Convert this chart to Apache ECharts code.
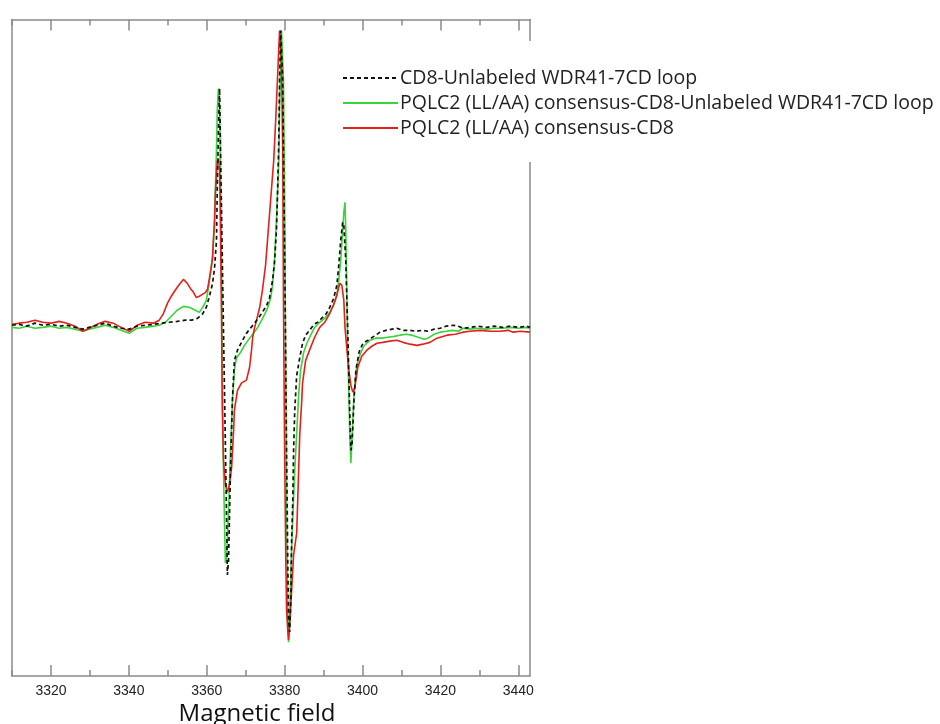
<!DOCTYPE html>
<html>
<head>
<meta charset="utf-8">
<title>EPR spectra</title>
<script src="https://cdn.jsdelivr.net/npm/echarts@6/dist/echarts.min.js"></script>
<style>
  html, body { margin: 0; padding: 0; background: #fff; }
  #chart { width: 940px; height: 724px; }
</style>
</head>
<body>
<div id="chart"></div>
<script>
// Field positions (G) and signal (a.u.) for each sample
const fieldBlack = [3310.0,3311.8,3313.8,3315.9,3317.9,3320.0,3322.1,3324.1,3326.2,3328.2,3329.8,3331.8,3333.9,3336.0,3338.0,3340.1,3342.1,3344.2,3346.3,3348.3,3350.4,3352.4,3354.5,3356.1,3357.6,3358.9,3359.9,3360.7,3361.5,3362.0,3362.5,3362.7,3363.0,3363.3,3363.5,3364.0,3364.6,3365.1,3365.3,3365.6,3366.1,3366.6,3367.1,3367.9,3368.9,3370.2,3371.2,3372.3,3373.6,3374.6,3375.4,3376.1,3376.9,3377.4,3377.9,3378.2,3378.5,3378.7,3379.0,3379.2,3379.5,3380.0,3380.5,3380.8,3381.0,3381.3,3381.6,3381.8,3382.1,3382.3,3382.6,3383.1,3383.9,3384.6,3385.4,3386.4,3387.5,3388.5,3389.5,3390.6,3391.6,3392.6,3393.4,3393.9,3394.4,3394.9,3395.2,3395.7,3396.2,3396.7,3397.0,3397.3,3397.8,3398.3,3399.1,3400.1,3401.4,3402.9,3404.5,3406.0,3407.6,3408.8,3410.4,3412.2,3413.7,3415.3,3416.8,3418.4,3419.9,3421.5,3423.3,3424.6,3425.8,3427.6,3429.7,3431.8,3433.8,3435.9,3438.0,3440.0,3442.1,3443.0];
const signalBlack = [0,0.3,-0.3,0.7,0,0.3,-0.3,0,-0.7,-1.3,-0.7,0,0.7,-0.3,-1.0,-1.3,-0.3,0,0.3,0.7,1.0,1.3,1.7,1.7,2.3,3.7,6.0,9.7,14.0,19.0,28.3,45.0,65.0,79.0,61.7,21.7,-25.0,-65.0,-83.3,-78.3,-48.3,-25.0,-11.7,-8.3,-5.7,-2.7,-1.0,0.7,3.0,5.0,6.7,9.0,15.0,21.0,31.7,45.0,61.7,81.7,98.3,98.3,81.7,25.0,-41.7,-78.3,-98.3,-102.3,-91.7,-71.7,-58.3,-41.7,-28.3,-16.7,-10.7,-6.0,-3.3,-1.7,0.3,1.0,2.3,3.7,6.0,9.0,13.3,20.0,28.3,34.3,33.3,21.7,-1.7,-28.3,-41.7,-40.0,-25.0,-15.0,-9.0,-6.0,-5.0,-3.7,-2.3,-1.7,-1.3,-1.0,-1.7,-1.7,-2.0,-1.7,-2.0,-1.3,-1.0,-0.3,0,-0.3,-1.0,-0.7,-0.3,-0.7,-0.3,-0.7,-0.3,-0.7,-0.3,-0.7];

const fieldGreen = [3310.0,3311.8,3313.8,3315.9,3317.9,3320.0,3322.1,3324.1,3326.2,3328.2,3329.8,3331.8,3333.9,3336.0,3338.0,3340.1,3342.1,3344.2,3346.3,3347.8,3349.4,3350.9,3352.4,3354.0,3355.5,3357.1,3358.1,3359.1,3359.9,3360.4,3360.9,3361.5,3362.0,3362.2,3362.5,3362.7,3363.0,3363.3,3363.5,3363.8,3364.0,3364.3,3364.6,3364.8,3365.1,3365.6,3366.1,3366.6,3367.1,3367.6,3368.7,3369.7,3371.0,3372.0,3373.1,3374.1,3374.9,3375.6,3376.4,3376.9,3377.4,3377.9,3378.5,3378.7,3379.0,3379.2,3379.5,3379.7,3380.0,3380.3,3380.5,3380.8,3381.0,3381.3,3381.6,3382.1,3382.6,3383.1,3383.6,3384.1,3384.9,3385.7,3386.7,3387.7,3389.0,3390.3,3391.6,3392.6,3393.4,3393.9,3394.4,3394.9,3395.2,3395.5,3395.7,3396.0,3396.2,3396.5,3396.7,3397.0,3397.3,3397.8,3398.5,3399.3,3400.3,3401.9,3403.4,3405.0,3406.5,3408.1,3409.6,3411.2,3412.7,3414.3,3415.8,3416.8,3418.4,3419.9,3421.5,3423.0,3424.6,3425.8,3427.6,3429.7,3431.8,3433.8,3435.9,3438.0,3440.0,3442.1,3443.0];
const signalGreen = [-0.7,-1.0,-0.3,-1.0,-0.7,-0.3,-1.0,-0.7,-1.3,-2.0,-1.3,-0.7,0,-0.7,-1.7,-2.7,-1.0,-0.7,-0.3,0,1.0,3.0,5.0,6.3,6.0,5.0,4.3,6.3,8.3,12.3,16.7,23.3,33.3,45.0,58.3,71.7,79.0,73.3,55.0,21.7,-18.3,-48.3,-68.3,-79.3,-78.3,-61.7,-41.7,-25.0,-15.0,-11.0,-9.0,-6.7,-4.3,-2.7,-0.7,1.7,3.7,5.7,9.0,13.3,21.7,35.0,55.0,71.7,88.3,98.3,98.3,81.7,41.7,-18.3,-65.0,-95.0,-105.7,-98.3,-81.7,-64.0,-48.3,-36.0,-23.3,-15.0,-9.0,-6.0,-3.3,-0.7,1.0,2.3,4.3,6.7,10.0,15.0,21.7,31.7,37.7,41.0,31.7,8.3,-8.3,-23.3,-35.0,-46.0,-38.3,-23.3,-13.3,-10.0,-7.0,-5.0,-4.3,-4.3,-4.0,-3.7,-3.3,-3.0,-3.3,-4.0,-4.7,-4.3,-3.0,-2.3,-2.0,-1.7,-2.0,-1.0,-1.3,-1.0,-1.3,-1.0,-1.0,-0.7,-1.0,-0.7,-1.0];

const fieldRed = [3310.0,3311.8,3313.8,3315.9,3317.9,3320.0,3322.1,3324.1,3326.2,3328.2,3329.8,3331.8,3333.9,3336.0,3338.0,3340.1,3342.1,3344.2,3346.3,3347.8,3348.8,3349.9,3350.9,3351.9,3353.0,3354.0,3354.5,3355.0,3355.8,3356.6,3357.3,3358.1,3358.9,3359.7,3360.2,3360.7,3361.2,3361.5,3361.7,3362.0,3362.2,3362.5,3362.7,3363.0,3363.3,3363.5,3363.8,3364.0,3364.3,3364.8,3365.3,3365.6,3365.8,3366.4,3366.9,3367.1,3367.9,3368.9,3370.2,3371.0,3371.5,3371.8,3372.3,3372.8,3373.6,3374.3,3375.1,3375.6,3376.4,3377.2,3377.7,3378.2,3378.7,3379.0,3379.2,3379.5,3379.7,3380.0,3380.3,3380.5,3380.8,3381.0,3381.3,3381.8,3382.3,3383.1,3383.6,3383.9,3384.4,3384.6,3385.4,3386.4,3387.7,3389.0,3390.3,3391.6,3392.6,3393.4,3393.9,3394.2,3394.7,3395.2,3395.5,3396.0,3396.5,3397.0,3397.5,3398.0,3398.8,3399.8,3401.1,3402.4,3403.7,3405.2,3407.0,3408.8,3410.4,3412.2,3414.0,3415.5,3417.3,3419.1,3421.7,3423.8,3425.8,3427.6,3430.2,3432.8,3435.4,3437.4,3438.7,3440.5,3443.0];
const signalRed = [0.3,0.7,1.0,1.7,1.0,0.7,1.3,0.7,-0.3,-2.0,-1.0,0.3,1.3,0.7,-0.7,-2.0,0,1.0,0.7,1.7,3.7,7.3,9.7,11.7,13.7,15.3,15.7,14.0,12.3,11.0,9.3,9.7,10.3,11.0,12.0,15.7,19.7,22.3,28.3,35.0,43.3,50.0,54.3,55.7,51.7,35.0,1.7,-28.3,-45.0,-53.3,-55.7,-56.0,-53.3,-47.3,-35.0,-28.3,-21.7,-19.3,-18.3,-14.0,-8.3,-4.0,-0.7,1.7,6.0,11.7,20.0,28.3,41.7,55.0,68.3,83.3,98.3,98.3,88.3,58.3,8.3,-41.7,-78.3,-95.0,-101.7,-105.0,-100.0,-88.3,-76.7,-69.3,-48.3,-36.0,-25.0,-19.3,-11.7,-8.3,-4.0,-0.7,1.0,4.0,7.0,10.0,12.7,14.0,13.3,8.3,-0.7,-8.3,-15.0,-20.0,-22.3,-21.0,-14.0,-10.3,-8.3,-7.0,-6.0,-5.7,-5.3,-5.0,-5.7,-6.3,-6.7,-6.3,-5.7,-4.3,-3.3,-3.0,-2.3,-2.0,-1.7,-2.0,-2.0,-1.7,-2.3,-2.0,-2.3];

const seriesNames = [
  'CD8-Unlabeled WDR41-7CD loop',
  'PQLC2 (LL/AA) consensus-CD8-Unlabeled WDR41-7CD loop',
  'PQLC2 (LL/AA) consensus-CD8'
];
const majorTicks = [3320, 3340, 3360, 3380, 3400, 3420, 3440];
const minorTicks = [3310, 3330, 3350, 3370, 3390, 3410, 3430];

const fieldMin = 3310, fieldMax = 3443;
const signalMin = -117, signalMax = 102;

function pairs(xs, ys) {
  return xs.map((x, i) => [x, ys[i]]);
}

const frameColor = '#8a8a8a';

function tickAxis(position, values, length, withLine, withLabels) {
  return {
    type: 'value', position: position, min: fieldMin, max: fieldMax,
    axisLine: { show: withLine, onZero: false, lineStyle: { color: frameColor, width: 1.5 } },
    axisTick: { show: true, inside: true, length: length, customValues: values,
                lineStyle: { color: frameColor, width: 1.5 } },
    axisLabel: withLabels
      ? { show: true, customValues: values, margin: 8, fontFamily: 'Liberation Sans',
          fontSize: 14, color: '#222', formatter: v => String(v) }
      : { show: false },
    splitLine: { show: false }
  };
}

const bottomMinor = tickAxis('bottom', minorTicks, 6, true, false);
bottomMinor.name = 'Magnetic field';
bottomMinor.nameLocation = 'middle';
bottomMinor.nameGap = 26;
bottomMinor.nameTextStyle = { fontFamily: 'Open Sans', fontSize: 24, color: '#111', padding: [0, 28, 0, 0] };

const chart = echarts.init(document.getElementById('chart'));
chart.setOption({
  backgroundColor: '#fff',
  animation: false,
  grid: { left: 12, right: 410, top: 19.5, bottom: 48, outerBoundsMode: 'none', containLabel: false },
  xAxis: [
    bottomMinor,
    tickAxis('bottom', majorTicks, 11, false, true),
    tickAxis('top', minorTicks, 6, true, false),
    tickAxis('top', majorTicks, 11, false, false)
  ],
  yAxis: [
    { type: 'value', position: 'left', min: signalMin, max: signalMax,
      axisLine: { show: true, onZero: false, lineStyle: { color: frameColor, width: 1.5 } },
      axisTick: { show: false }, axisLabel: { show: false }, splitLine: { show: false } },
    { type: 'value', position: 'right', min: signalMin, max: signalMax,
      axisLine: { show: true, onZero: false, lineStyle: { color: frameColor, width: 1.5 } },
      axisTick: { show: false }, axisLabel: { show: false }, splitLine: { show: false } }
  ],
  legend: {
    orient: 'vertical', left: 337, top: 41,
    padding: [25, 6, 22, 5],
    backgroundColor: '#fff',
    itemGap: 1, itemWidth: 55, itemHeight: 14,
    itemStyle: { opacity: 0 },
    data: seriesNames,
    textStyle: { fontFamily: 'Open Sans', fontSize: 19.5, color: '#222', lineHeight: 24, padding: [0, 0, 0, -3] }
  },
  series: [
    { name: seriesNames[1], type: 'line', symbol: 'none', z: 2,
      data: pairs(fieldGreen, signalGreen),
      lineStyle: { color: '#3ad43a', width: 1.6 }, itemStyle: { color: '#3ad43a' } },
    { name: seriesNames[2], type: 'line', symbol: 'none', z: 3,
      data: pairs(fieldRed, signalRed),
      lineStyle: { color: '#e3201b', width: 1.6 }, itemStyle: { color: '#e3201b' } },
    { name: seriesNames[0], type: 'line', symbol: 'none', z: 4,
      data: pairs(fieldBlack, signalBlack),
      lineStyle: { color: '#111', width: 1.7, type: [4, 3] }, itemStyle: { color: '#111' } }
  ]
});
</script>
</body>
</html>
